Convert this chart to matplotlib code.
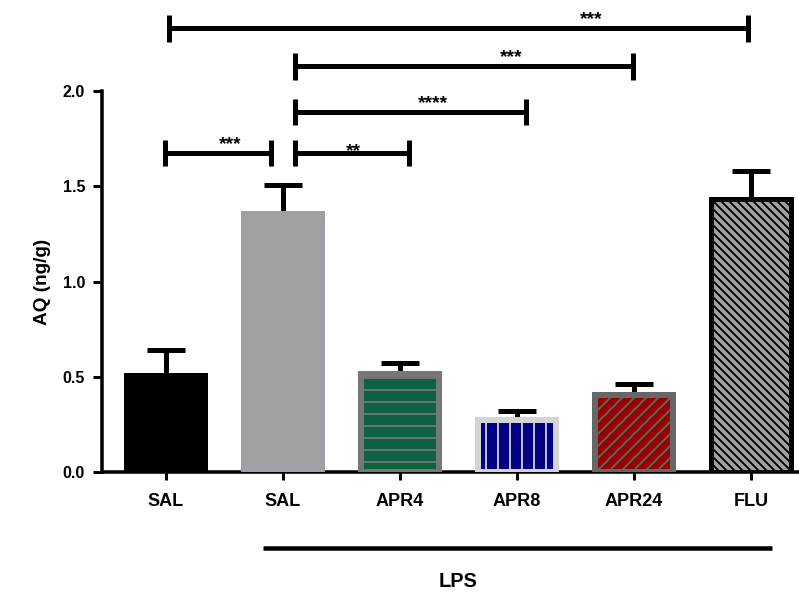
import matplotlib.pyplot as plt
import numpy as np

plt.rcParams['font.family'] = ['Liberation Sans', 'DejaVu Sans']
plt.rcParams['font.weight'] = 'bold'
plt.rcParams['hatch.linewidth'] = 1.8

# data
groups = ['SAL', 'SAL', 'APR4', 'APR8', 'APR24', 'FLU']
means = [0.52, 1.37, 0.515, 0.275, 0.405, 1.435]
sems = [0.12, 0.135, 0.06, 0.045, 0.055, 0.145]

fills = ['#000000', '#a09fa4', '#0b6342', '#000080', '#990000', '#a0a0a2']
edges = ['#000000', '#a09fa4', '#777777', '#d4d4d4', '#666666', '#000000']
hatches = [None, None, '-', '|', '//', '\\\\\\']
edge_w = [0, 0, 6, 6, 6, 5]

# significance brackets: (x start, x end, height, label, label x)
brackets = [
    (0.03, 4.97, 2.33, '***', 3.63),
    (1.10, 3.99, 2.13, '***', 2.95),
    (1.10, 3.08, 1.89, '****', 2.28),
    (-0.01, 0.90, 1.675, '***', 0.55),
    (1.10, 2.08, 1.675, '**', 1.60),
]

dpi = 72
fig = plt.figure(figsize=(799 / dpi, 596 / dpi), dpi=dpi)
ax = fig.add_axes([0.1277, 0.208, 0.8723, 0.639])

x = np.arange(len(groups))
for i in x:
    w = 0.72 - edge_w[i] / 117.4
    if hatches[i] is None:
        ax.bar(x[i], means[i], width=w, color=fills[i], linewidth=0, zorder=3)
    else:
        # hatch drawn in the edge colour, then a plain frame on top
        ax.bar(x[i], means[i], width=w, facecolor=fills[i], edgecolor=edges[i],
               hatch=hatches[i], linewidth=0, zorder=3)
        ax.bar(x[i], means[i], width=w, fill=False, edgecolor=edges[i],
               linewidth=edge_w[i], zorder=4)

# upper error bars only
tops = np.array(means) + np.array(sems)
ax.vlines(x, means, tops, color='black', lw=5, zorder=2)
ax.hlines(tops, x - 0.165, x + 0.165, color='black', lw=5, zorder=2)

for x0, x1, h, lab, lx in brackets:
    ax.plot([x0, x1], [h, h], color='black', lw=5, clip_on=False,
            solid_capstyle='butt')
    for xe in (x0, x1):
        ax.plot([xe, xe], [h - 0.07, h + 0.07], color='black', lw=5,
                clip_on=False, solid_capstyle='butt')
    dy = -0.035 if lab == '**' else 0.0
    ax.text(lx, h + dy, lab, ha='center', va='bottom', fontsize=19,
            fontweight='bold', clip_on=False)

ax.set_xlim(-0.545, 5.41)
ax.set_ylim(0, 2.0)
ax.set_yticks([0.0, 0.5, 1.0, 1.5, 2.0])
ax.set_yticklabels(['0.0', '0.5', '1.0', '1.5', '2.0'])
ax.set_xticks(x)
ax.set_xticklabels(groups)
ax.set_ylabel('AQ (ng/g)', fontsize=19, fontweight='bold', labelpad=12)

for s in ['top', 'right']:
    ax.spines[s].set_visible(False)
for s in ['left', 'bottom']:
    ax.spines[s].set_linewidth(3.5)
ax.tick_params(axis='y', length=9, width=3, labelsize=16, pad=8)
ax.tick_params(axis='x', length=8, width=3, labelsize=18, pad=13)

# LPS grouping line below the axis
ax.plot([0.83, 5.18], [-0.40, -0.40], color='black', lw=4.5, clip_on=False,
        solid_capstyle='butt')
ax.text(2.5, -0.577, 'LPS', ha='center', va='center', fontsize=20,
        fontweight='bold', clip_on=False)

fig.savefig('out.png', dpi=dpi)
